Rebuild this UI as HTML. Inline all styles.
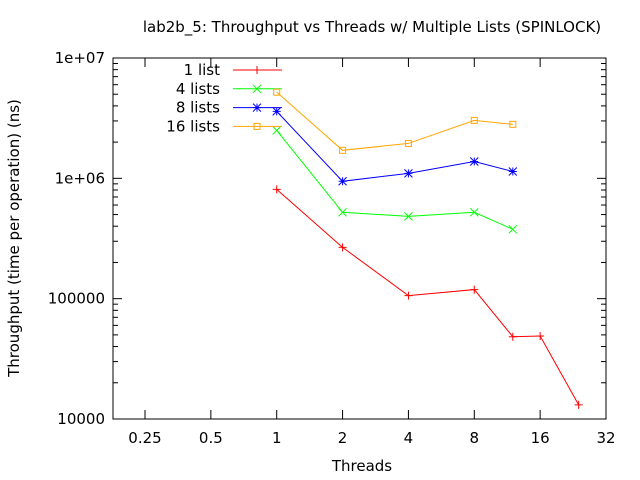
<!DOCTYPE html>
<html><head><meta charset="utf-8"><style>
body{margin:0;background:#fff}
svg{display:block;font-family:"DejaVu Sans","Liberation Sans",sans-serif;font-size:15px}
</style></head><body>
<svg id="chart" width="640" height="480">
<rect width="640" height="480" fill="#fff"/>
<text x="372" y="32" text-anchor="middle">lab2b_5: Throughput vs Threads w/ Multiple Lists (SPINLOCK)</text>
<text x="362" y="471" text-anchor="middle">Threads</text>
<text transform="translate(19,238) rotate(-90)" text-anchor="middle">Throughput (time per operation) (ns)</text>
<g id="axes"></g>
<g id="series"></g>
<rect x="113" y="58" width="493" height="361" fill="none" stroke="#000"/>
</svg>
<script>
const xTicks=[0.25,0.5,1,2,4,8,16,32];
const xTickLabels=["0.25","0.5","1","2","4","8","16","32"];
const yTicks=[1e4,1e5,1e6,1e7];
const yTickLabels=["10000","100000","1e+06","1e+07"];
const seriesNames=["1 list","4 lists","8 lists","16 lists"];
const seriesColors=["#ff0000","#00ff00","#0000ff","#ffa500"];
const threads1=[1,2,4,8,12,16,24];
const vals1=[810000,267000,106000,119000,48300,49000,13100];
const threadsN=[1,2,4,8,12];
const vals4=[2500000,522000,483000,522000,377000];
const vals8=[3600000,945000,1100000,1380000,1140000];
const vals16=[5200000,1710000,1950000,3030000,2810000];

const NS="http://www.w3.org/2000/svg";
const L=113,R=606,T=58,B=419;
function xs(v){return 145+(Math.log2(v)+2)*65.857;}
function ys(v){return B-(Math.log10(v)-4)*(B-T)/3;}
function mk(tag,attrs,parent){const e=document.createElementNS(NS,tag);for(const k in attrs)e.setAttribute(k,attrs[k]);parent.appendChild(e);return e;}
const axes=document.getElementById('axes');
xTicks.forEach((t,i)=>{const x=xs(t);
 const g=mk('g',{},axes);
 
 
 mk('line',{x1:x,x2:x,y1:B,y2:B-9,stroke:'#000'},g);
 mk('line',{x1:x,x2:x,y1:T,y2:T+9,stroke:'#000'},g);
 const tx=mk('text',{x:x,y:B+24,'text-anchor':'middle'},g);tx.textContent=xTickLabels[i];});
yTicks.forEach((t,i)=>{const y=ys(t);
 const g=mk('g',{},axes);
 
 
 mk('line',{x1:L,x2:L+9,y1:y,y2:y,stroke:'#000'},g);
 mk('line',{x1:R,x2:R-9,y1:y,y2:y,stroke:'#000'},g);
 const tx=mk('text',{x:L-8,y:y+5,'text-anchor':'end'},g);tx.textContent=yTickLabels[i];
 if(i<yTicks.length-1){for(let m=2;m<10;m++){const ym=ys(t*m);
  mk('line',{x1:L,x2:L+5,y1:ym,y2:ym,stroke:'#000'},g);
  mk('line',{x1:R,x2:R-5,y1:ym,y2:ym,stroke:'#000'},g);}}});
function marker(g,type,x,y,c){
 const s=4;
 if(type===0){mk('path',{d:`M${x-s} ${y}H${x+s}M${x} ${y-s}V${y+s}`,stroke:c,fill:'none'},g);}
 else if(type===1){mk('path',{d:`M${x-s} ${y-s}L${x+s} ${y+s}M${x-s} ${y+s}L${x+s} ${y-s}`,stroke:c,fill:'none'},g);}
 else if(type===2){mk('path',{d:`M${x-s} ${y}H${x+s}M${x} ${y-s}V${y+s}M${x-s} ${y-s}L${x+s} ${y+s}M${x-s} ${y+s}L${x+s} ${y-s}`,stroke:c,fill:'none'},g);}
 else {mk('rect',{x:x-3,y:y-3,width:6,height:6,stroke:c,fill:'none'},g);}
}
const seriesData=[[threads1,vals1],[threadsN,vals4],[threadsN,vals8],[threadsN,vals16]];
const sg=document.getElementById('series');
seriesData.forEach((d,i)=>{
 const g=mk('g',{},sg);
 
 
 const pts=d[0].map((t,j)=>xs(t)+','+ys(d[1][j])).join(' ');
 mk('polyline',{points:pts,fill:'none',stroke:seriesColors[i]},g);
 d[0].forEach((t,j)=>marker(g,i,xs(t),ys(d[1][j]),seriesColors[i]));
 const ly=70+i*18.8;
 const lg=mk('g',{},sg);
 
 
 const tx=mk('text',{x:220,y:ly+5,'text-anchor':'end'},lg);tx.textContent=seriesNames[i];
 mk('line',{x1:233,x2:282,y1:ly,y2:ly,stroke:seriesColors[i]},lg);
 marker(lg,i,257,ly,seriesColors[i]);
});
</script>
</body></html>
